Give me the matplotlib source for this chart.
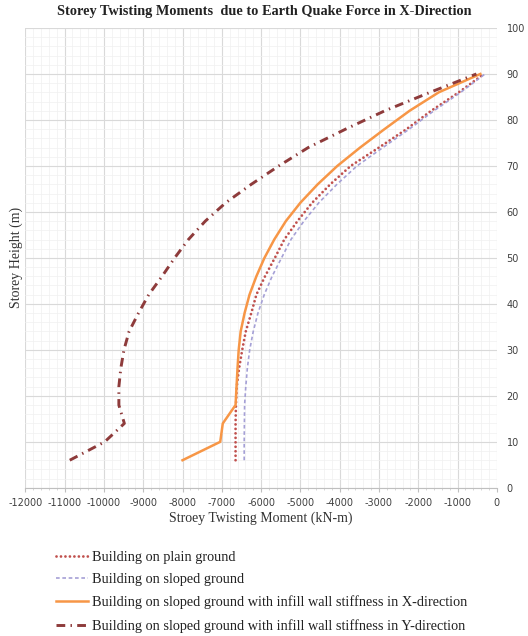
#!/usr/bin/env python3
"""Storey twisting moments due to earthquake force in X-direction (four building cases)."""
from __future__ import annotations

import matplotlib

matplotlib.use("Agg")
import matplotlib.pyplot as plt
from matplotlib.ticker import AutoMinorLocator, MultipleLocator

# storey heights (m)
heights = [6, 10, 14, 18, 22, 26, 30, 34, 38, 42, 46, 50, 54, 58, 62, 66, 70, 74, 78, 82, 86, 90]

# storey twisting moment (kN-m)
plain_ground = [
    -6650, -6650, -6650, -6640, -6620, -6560, -6480, -6390, -6250, -6120, -5900,
    -5650, -5410, -5075, -4700, -4240, -3720, -3000, -2300, -1670, -970, -330,
]
sloped_ground = [
    -6430, -6430, -6425, -6420, -6390, -6350, -6290, -6200, -6080, -5920, -5720,
    -5480, -5240, -4910, -4530, -4070, -3560, -2900, -2230, -1600, -920, -300,
]
infill_x = [
    -8000, -7040, -6975, -6650, -6625, -6600, -6570, -6520, -6420, -6295, -6120,
    -5915, -5665, -5370, -5000, -4560, -4060, -3480, -2860, -2220, -1480, -420,
]
infill_y = [
    -10870, -9980, -9480, -9620, -9620, -9570, -9490, -9360, -9120, -8860, -8520,
    -8200, -7850, -7420, -6900, -6250, -5550, -4800, -3850, -2850, -1700, -520,
]

labels = [
    "Building on plain ground",
    "Building on sloped ground",
    "Building on sloped ground with infill wall stiffness in X-direction",
    "Building on sloped ground with infill wall stiffness in Y-direction",
]

SERIF = ["Liberation Serif", "DejaVu Serif"]


def main() -> int:
    plt.rcParams["axes.unicode_minus"] = False

    fig = plt.figure(figsize=(5.28, 6.36), dpi=100)
    ax = fig.add_axes([0.048, 0.233, 0.893, 0.723])

    ax.plot(plain_ground, heights, color="#C0504D", lw=2.0,
            linestyle=(0, (0.01, 1.6)), dash_capstyle="round", label=labels[0])
    ax.plot(sloped_ground, heights, color="#A5A0D6", lw=1.2,
            linestyle=(0, (2.2, 1.6)), label=labels[1])
    ax.plot(infill_x, heights, color="#F79646", lw=1.8, label=labels[2])
    ax.plot(infill_y, heights, color="#8E3B3B", lw=2.1,
            linestyle=(0, (3.0, 1.8, 0.5, 1.8)), label=labels[3])

    ax.set_xlim(-12000, 0)
    ax.set_ylim(0, 100)
    ax.xaxis.set_major_locator(MultipleLocator(1000))
    ax.yaxis.set_major_locator(MultipleLocator(10))
    ax.xaxis.set_minor_locator(AutoMinorLocator(5))
    ax.yaxis.set_minor_locator(AutoMinorLocator(5))
    ax.grid(which="major", color="#D9D9D9", lw=0.8)
    ax.grid(which="minor", color="#F0F0F0", lw=0.5)
    ax.set_axisbelow(True)

    for side in ("left", "top", "right"):
        ax.spines[side].set_visible(False)
    ax.spines["bottom"].set_color("#BFBFBF")
    ax.spines["bottom"].set_linewidth(0.8)

    ax.yaxis.tick_right()
    ax.yaxis.set_label_position("left")
    ax.tick_params(axis="y", which="both", length=0, labelsize=7, pad=7,
                   labelcolor="#404040")
    ax.tick_params(axis="x", which="major", length=3, color="#BFBFBF",
                   labelsize=7, pad=4, labelcolor="#404040")
    ax.tick_params(axis="x", which="minor", length=1.5, color="#D0D0D0")

    ax.set_xlabel("Stroey Twisting Moment (kN-m)", family=SERIF, fontsize=10,
                  color="#333333", labelpad=3)
    ax.set_ylabel("Storey Height (m)", family=SERIF, fontsize=10,
                  color="#333333", labelpad=2)
    fig.text(0.5, 0.982, "Storey Twisting Moments  due to Earth Quake Force in X-Direction",
             ha="center", va="center", family=SERIF, fontsize=10.3, fontweight="bold",
             color="#222222")

    handles, lbls = ax.get_legend_handles_labels()
    fig.legend(handles, lbls, loc="upper left", bbox_to_anchor=(0.106, 0.134),
               frameon=False, prop={"family": SERIF, "size": 10.25},
               handlelength=2.25, handletextpad=0.3, labelspacing=0.66,
               borderaxespad=0, borderpad=0, labelcolor="#222222")

    fig.savefig("out.png", dpi=100)
    plt.close(fig)
    return 0


if __name__ == "__main__":
    raise SystemExit(main())
